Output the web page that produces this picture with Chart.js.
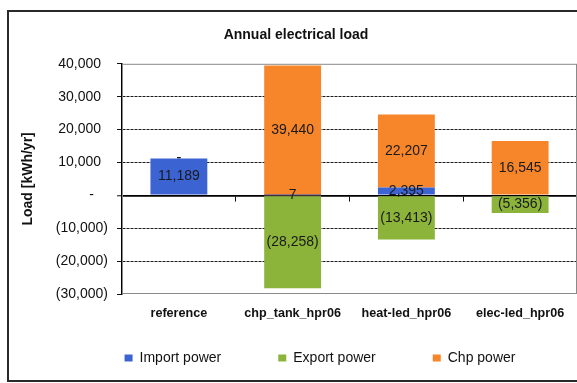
<!DOCTYPE html>
<html>
<head>
<meta charset="utf-8">
<title>Annual electrical load</title>
<script src="https://cdn.jsdelivr.net/npm/chart.js@4"></script>
<style>
    html, body { margin: 0; padding: 0; background: #fff; }
    #loadChart { display: block; }
</style>
</head>
<body>
<canvas id="loadChart" width="577" height="383"></canvas>
<script>
// Chart data (kWh/yr)
const categories = ['reference', 'chp_tank_hpr06', 'heat-led_hpr06', 'elec-led_hpr06'];
const importPower = [11189, 7, 2395, 0];
const exportPower = [0, -28258, -13413, -5356];
const chpPower = [0, 39440, 22207, 16545];
const seriesNames = ['Import power', 'Export power', 'Chp power'];

// Y axis range
const yMin = -30000;
const yMax = 40000;
const yStep = 10000;

const COLORS = {
    import: '#3c63d2',
    export: '#8cb43a',
    chp: '#f7862a',
    text: '#111111'
};

Chart.defaults.font.family = '"Liberation Sans", Arial, sans-serif';
Chart.defaults.color = COLORS.text;

// Accounting style numbers: 1,234 / (1,234) / -
function fmtValue(v) {
    if (v === 0) return '-';
    const s = Math.abs(v).toLocaleString('en-US');
    return v < 0 ? '(' + s + ')' : s;
}

// Tick labels keep room for the closing bracket so digits line up
function fmtTick(v) {
    if (v === 0) return '-\u2003';
    return v < 0 ? fmtValue(v) : fmtValue(v) + '\u2002';
}

// White page with the dark frame around the whole chart
const chartFrame = {
    id: 'chartFrame',
    beforeDraw(chart) {
        const ctx = chart.ctx;
        ctx.save();
        ctx.fillStyle = '#fff';
        ctx.fillRect(0, 0, chart.width, chart.height);
        ctx.strokeStyle = '#2a2a2a';
        ctx.lineWidth = 2;
        ctx.strokeRect(8, 11, chart.width + 10, chart.height - 13);
        ctx.restore();
    }
};

// Grey border of the plot area
const plotFrame = {
    id: 'plotFrame',
    beforeDatasetsDraw(chart) {
        const a = chart.chartArea;
        const ctx = chart.ctx;
        ctx.save();
        ctx.strokeStyle = '#8a8a8a';
        ctx.lineWidth = 1;
        ctx.strokeRect(a.left + 0.5, a.top + 0.5, a.right - a.left - 1, a.bottom - a.top - 1);
        ctx.restore();
    }
};

// Value labels in the middle of each segment
const segmentLabels = {
    id: 'segmentLabels',
    afterDraw(chart) {
        const ctx = chart.ctx;
        const zeroY = chart.scales.y.getPixelForValue(0);
        ctx.save();
        ctx.font = '14px "Liberation Sans", Arial, sans-serif';
        ctx.fillStyle = '#1a1a1a';
        ctx.textAlign = 'center';
        ctx.textBaseline = 'middle';
        chart.data.datasets.forEach((ds, i) => {
            const meta = chart.getDatasetMeta(i);
            meta.data.forEach((bar, j) => {
                const v = ds.data[j];
                // empty segments on the axis would only overprint the zero line
                if (v === 0 && Math.abs(bar.base - zeroY) < 1) return;
                ctx.fillText(fmtValue(v), bar.x, (bar.y + bar.base) / 2);
            });
        });
        ctx.restore();
    }
};

// Shift the legend row to the right of the page centre
const legendOffset = {
    id: 'legendOffset',
    afterLayout(chart) {
        chart.legend.left += 24;
        chart.legend.right += 24;
    }
};

function initializeLoadChart() {
    const canvas = document.getElementById('loadChart');
    const ctx = canvas.getContext('2d');

    new Chart(ctx, {
        type: 'bar',
        data: {
            labels: categories,
            datasets: [
                {
                    label: seriesNames[0],
                    data: importPower,
                    backgroundColor: COLORS.import,
                    borderWidth: 0
                },
                {
                    label: seriesNames[1],
                    data: exportPower,
                    backgroundColor: COLORS.export,
                    borderWidth: 0
                },
                {
                    label: seriesNames[2],
                    data: chpPower,
                    backgroundColor: COLORS.chp,
                    borderWidth: 0
                }
            ]
        },
        options: {
            responsive: false,
            animation: false,
            barPercentage: 0.5,
            categoryPercentage: 1,
            layout: {
                padding: { left: 15, right: 0, top: 10, bottom: 8 }
            },
            plugins: {
                title: {
                    display: true,
                    text: 'Annual electrical load',
                    color: COLORS.text,
                    font: { size: 14, weight: 'bold' },
                    padding: { top: 17, bottom: 20 }
                },
                legend: {
                    position: 'bottom',
                    labels: {
                        boxWidth: 8,
                        boxHeight: 7,
                        padding: 57,
                        color: COLORS.text,
                        font: { size: 14 }
                    }
                },
                tooltip: { enabled: false }
            },
            scales: {
                // category labels sit under the lowest gridline
                x: {
                    stacked: true,
                    position: { y: yMin },
                    grid: { display: false, drawTicks: false },
                    border: { display: false },
                    ticks: {
                        autoSkip: false,
                        maxRotation: 0,
                        padding: 12,
                        color: COLORS.text,
                        font: { size: 12.6, weight: 'bold' }
                    }
                },
                // zero line with the category tick marks hanging from it
                x2: {
                    type: 'category',
                    axis: 'x',
                    position: { y: 0 },
                    offset: true,
                    z: 1,
                    grid: {
                        offset: true,
                        drawOnChartArea: false,
                        drawTicks: true,
                        tickLength: 5,
                        tickColor: '#111',
                        tickWidth: 1
                    },
                    border: { display: true, color: '#000', width: 1.6 },
                    ticks: { display: false }
                },
                y: {
                    stacked: true,
                    min: yMin,
                    max: yMax,
                    ticks: {
                        stepSize: yStep,
                        padding: 9,
                        color: COLORS.text,
                        font: { size: 14 },
                        callback: function(value) {
                            return fmtTick(value);
                        }
                    },
                    grid: {
                        color: function(context) {
                            const v = context.tick ? context.tick.value : null;
                            if (v === yMin || v === yMax) return 'rgba(0,0,0,0)';
                            return v === 0 ? '#000' : '#1a1a1a';
                        },
                        lineWidth: function(context) {
                            return context.tick && context.tick.value === 0 ? 1.6 : 1;
                        },
                        tickLength: 5,
                        tickColor: '#111',
                        tickWidth: 1
                    },
                    border: {
                        display: true,
                        color: '#000',
                        width: 1.5,
                        dash: function(context) {
                            if (!context.tick || context.tick.value === 0) return [];
                            return [3, 1];
                        }
                    },
                    title: {
                        display: true,
                        text: 'Load [kWh/yr]',
                        color: COLORS.text,
                        font: { size: 14, weight: 'bold' },
                        padding: { top: 5, bottom: 0 }
                    },
                    afterFit: function(scale) {
                        scale.width = 107;
                    }
                }
            }
        },
        plugins: [chartFrame, plotFrame, segmentLabels, legendOffset]
    });
}

document.addEventListener('DOMContentLoaded', initializeLoadChart);
</script>
</body>
</html>
